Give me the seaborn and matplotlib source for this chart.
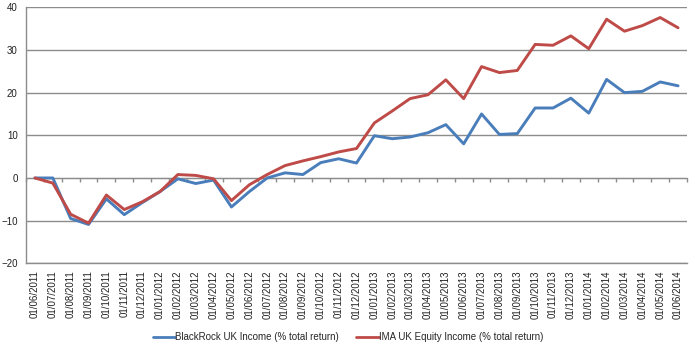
import matplotlib
matplotlib.use("Agg")
import matplotlib.pyplot as plt
import seaborn as sns
import pandas as pd

dates = ["01/06/2011", "01/07/2011", "01/08/2011", "01/09/2011", "01/10/2011", "01/11/2011",
         "01/12/2011", "01/01/2012", "01/02/2012", "01/03/2012", "01/04/2012", "01/05/2012",
         "01/06/2012", "01/07/2012", "01/08/2012", "01/09/2012", "01/10/2012", "01/11/2012",
         "01/12/2012", "01/01/2013", "01/02/2013", "01/03/2013", "01/04/2013", "01/05/2013",
         "01/06/2013", "01/07/2013", "01/08/2013", "01/09/2013", "01/10/2013", "01/11/2013",
         "01/12/2013", "01/01/2014", "01/02/2014", "01/03/2014", "01/04/2014", "01/05/2014",
         "01/06/2014"]

blackrock = [0, 0, -9.5, -10.9, -4.9, -8.6, -5.8, -3.2, -0.2, -1.3, -0.5, -6.8,
             -3.2, 0.0, 1.2, 0.8, 3.6, 4.5, 3.5, 9.9, 9.2, 9.6, 10.6, 12.5,
             8.0, 15.0, 10.2, 10.4, 16.4, 16.4, 18.7, 15.2, 23.1, 20.0, 20.3, 22.5, 21.6]

ima = [0, -1.2, -8.5, -10.6, -4.0, -7.4, -5.6, -3.2, 0.8, 0.6, -0.2, -5.3,
       -1.6, 0.8, 2.9, 4.0, 5.0, 6.1, 6.9, 12.9, 15.7, 18.6, 19.5, 23.0,
       18.6, 26.1, 24.7, 25.2, 31.3, 31.1, 33.3, 30.3, 37.2, 34.4, 35.7, 37.6, 35.2]

series_names = ["BlackRock UK Income (% total return)", "IMA UK Equity Income (% total return)"]
colors = ["#4A7EBB", "#BE4B48"]

df = pd.DataFrame({
    "idx": list(range(len(dates))) * 2,
    "value": blackrock + ima,
    "series": [series_names[0]] * len(dates) + [series_names[1]] * len(dates),
})

sns.set_style("white")
plt.rcParams["font.family"] = ["Liberation Sans", "DejaVu Sans"]
plt.rcParams["font.size"] = 7

fig = plt.figure(figsize=(6.95, 3.5), dpi=100)
ax = fig.add_axes([26 / 695, 1 - 263.3 / 350, (687 - 26) / 695, (263.3 - 7.3) / 350])

grid_c = "#8C8C8C"
ax.set_ylim(-20, 40)
ax.set_xlim(-0.5, len(dates) - 0.5)
ax.set_yticks([-20, -10, 0, 10, 20, 30, 40])
ax.yaxis.grid(True, color=grid_c, linewidth=1.0)
ax.set_axisbelow(True)

sns.lineplot(data=df, x="idx", y="value", hue="series", palette=colors,
             linewidth=2.1, ax=ax, legend=True)

ax.set_xticks(range(len(dates)))
ax.set_xticklabels(dates, rotation=90, fontsize=7, color="#222222")
ax.tick_params(axis="x", length=0, pad=5)
ax.tick_params(axis="y", length=2, pad=4, labelsize=7, colors="#222222", color=grid_c)
ax.set_xlabel("")
ax.set_ylabel("")

for s in ["top", "right"]:
    ax.spines[s].set_visible(False)
ax.spines["left"].set_color(grid_c)
ax.spines["bottom"].set_color(grid_c)
ax.spines["left"].set_linewidth(1.0)
ax.spines["bottom"].set_linewidth(1.0)

# category axis crossing at zero with boundary tick marks
zero_pos = (0 - (-20)) / 60
sec = ax.secondary_xaxis(zero_pos)
sec.set_xticks([i - 0.5 for i in range(len(dates) + 1)])
sec.tick_params(axis="x", direction="out", length=3, color=grid_c, labelbottom=False,
                labeltop=False, width=1.0)
sec.spines["bottom"].set_color(grid_c)
sec.spines["top"].set_color(grid_c)
sec.xaxis.set_ticks_position("bottom")
sec.set_xticklabels([])

leg = ax.legend(loc="center", bbox_to_anchor=(348 / 695, 1 - 337 / 350),
                bbox_transform=fig.transFigure, ncol=2, frameon=False,
                fontsize=7, handlelength=2.3, handletextpad=0.0, columnspacing=1.8)
for line in leg.get_lines():
    line.set_linewidth(2.0)

fig.savefig("out.png", dpi=100)
